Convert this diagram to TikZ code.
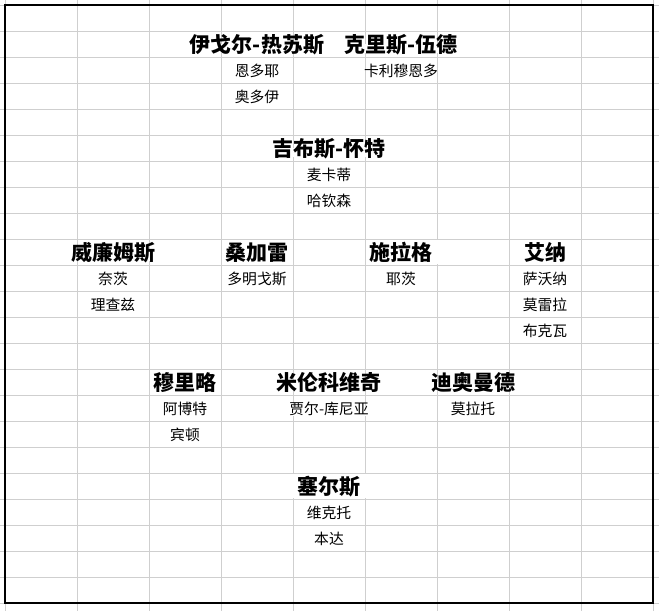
\documentclass[tikz,border=0pt]{standalone}
\usepackage{fontspec}
\usepackage{tikz}
\newfontfamily\cjk{Noto Sans CJK SC}

\begin{document}
\begin{tikzpicture}[x=1pt,y=-1pt,
		gridline/.style={draw=black!19,line width=0.8pt},
		frame/.style={draw=black,line width=1.3pt},
		head/.style={fill=white,inner xsep=0.3pt,inner ysep=0pt,yshift=-4.5pt,font=\cjk\bfseries\fontsize{21}{24}\selectfont,text height=0.85em,text depth=0.1em},
		player/.style={inner sep=0pt,yshift=-3pt,font=\cjk\fontsize{14.8}{18}\selectfont,text height=0.85em,text depth=0.1em},
		spill/.style={player,fill=white,inner xsep=0.3pt}]
		\useasboundingbox (0,0) rectangle (659,611);
		\fill[white] (0,0) rectangle (659,611);
		\foreach \i in {0,...,9} \draw[gridline] (5+72*\i,0) -- (5+72*\i,611);
		\draw[white,line width=2pt] (437,240) -- (437,264) (293,474) -- (293,498) (365,474) -- (365,498);
		\node at (257,44) [head] (jesus) {伊戈尔-热苏斯};
		\node at (401,44) [head] (wood) {克里斯-伍德};
		\node at (257,70) [player] (ndoye) {恩多耶};
		\node at (257,96) [player] (odoi) {奥多伊};
		\node at (401,70) [player] (kalimuendo) {卡利穆恩多};
		\node at (329,148) [head] (gibbs) {吉布斯-怀特};
		\node at (329,174) [player] (mcatee) {麦卡蒂};
		\node at (329,200) [player] (hutchinson) {哈钦森};
		\node at (113,252) [head] (williams) {威廉姆斯};
		\node at (113,278) [player] (niakhate) {奈茨};
		\node at (113,304) [player] (richards) {理查兹};
		\node at (257,252) [head] (sangare) {桑加雷};
		\node at (257,278) [player] (domingos) {多明戈斯};
		\node at (401,252) [head] (schlager) {施拉格};
		\node at (401,278) [player] (yates) {耶茨};
		\node at (545,252) [head] (aina) {艾纳};
		\node at (545,278) [player] (savona) {萨沃纳};
		\node at (545,304) [player] (moreira) {莫雷拉};
		\node at (545,330) [player] (boukwa) {布克瓦};
		\node at (185,382) [head] (murillo) {穆里略};
		\node at (185,408) [player] (abbott) {阿博特};
		\node at (185,434) [player] (bindon) {宾顿};
		\node at (329,382) [head] (milenkovic) {米伦科维奇};
		\node at (329,408) [spill] (cunha) {贾尔-库尼亚};
		\node at (473,382) [head] (diomande) {迪奥曼德};
		\node at (473,408) [player] (morato) {莫拉托};
		\node at (329,486) [head] (sels) {塞尔斯};
		\node at (329,512) [player] (victor) {维克托};
		\node at (329,538) [player] (benda) {本达};
		\foreach \j in {0,...,23} \draw[gridline] (0,5+26*\j) -- (659,5+26*\j);
		\draw[frame] (5,5) rectangle (653,603);
	\end{tikzpicture}
\end{document}
